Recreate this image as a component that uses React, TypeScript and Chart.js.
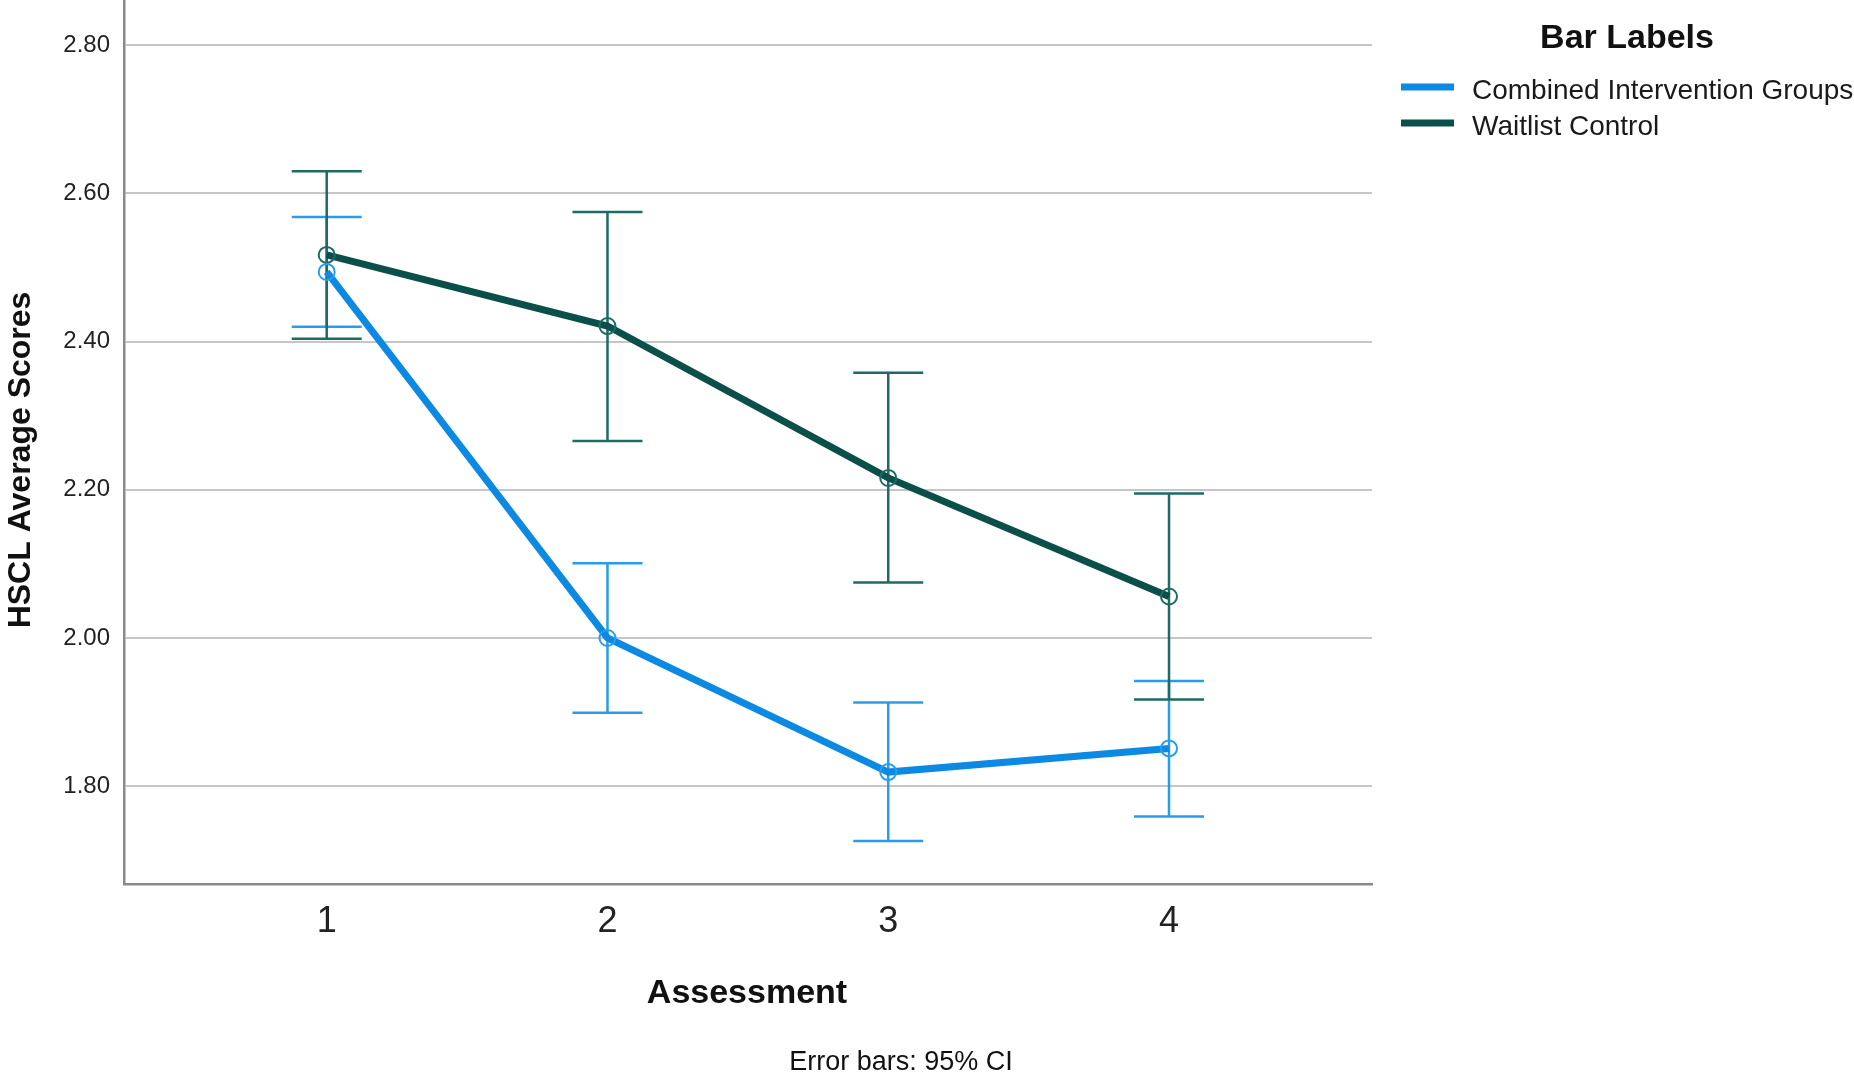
import { useEffect, useRef } from "react"
import { Chart, registerables } from "chart.js"

Chart.register(...registerables)

// Assessment points on the x axis
const assessments = [1, 2, 3, 4]

// Combined Intervention Groups: means and 95% CI bounds
const combinedMean = [2.494, 2.0, 1.819, 1.851]
const combinedLow = [2.42, 1.899, 1.726, 1.759]
const combinedHigh = [2.568, 2.101, 1.913, 1.942]

// Waitlist Control: means and 95% CI bounds
const waitlistMean = [2.517, 2.421, 2.216, 2.056]
const waitlistLow = [2.404, 2.266, 2.075, 1.917]
const waitlistHigh = [2.63, 2.575, 2.358, 2.195]

const seriesNames = ["Combined Intervention Groups", "Waitlist Control"]

const BLUE = "#0c8ae3"
const BLUE_BAR = "#2a9dea"
const TEAL = "#0b4f4a"
const TEAL_BAR = "#1e6b65"
const FONT = "'Liberation Sans', Arial, sans-serif"

const W = 1854
const H = 1073

const errorBars = [
  { low: combinedLow, high: combinedHigh, color: BLUE_BAR },
  { low: waitlistLow, high: waitlistHigh, color: TEAL_BAR },
]

// draws the CI whiskers behind the lines
const errorBarPlugin = {
  id: "errorBars",
  beforeDatasetsDraw(chart: any) {
    const { ctx } = chart
    const yScale = chart.scales.y
    ctx.save()
    errorBars.forEach((bar, di) => {
      const meta = chart.getDatasetMeta(di)
      ctx.strokeStyle = bar.color
      ctx.lineWidth = 2.5
      meta.data.forEach((pt: any, i: number) => {
        const x = pt.x
        const yLo = yScale.getPixelForValue(bar.low[i])
        const yHi = yScale.getPixelForValue(bar.high[i])
        ctx.beginPath()
        ctx.moveTo(x, yLo)
        ctx.lineTo(x, yHi)
        ctx.moveTo(x - 35, yLo)
        ctx.lineTo(x + 35, yLo)
        ctx.moveTo(x - 35, yHi)
        ctx.lineTo(x + 35, yHi)
        ctx.stroke()
      })
    })
    ctx.restore()
  },
}

// axis titles, legend block and footnote
const labelsPlugin = {
  id: "labels",
  afterDraw(chart: any) {
    const { ctx } = chart
    ctx.save()
    ctx.fillStyle = "#111"

    // y title
    ctx.save()
    ctx.translate(21, 460)
    ctx.rotate(-Math.PI / 2)
    ctx.font = `bold 32px ${FONT}`
    ctx.textAlign = "center"
    ctx.textBaseline = "middle"
    ctx.fillText("HSCL Average Scores", 0, 0)
    ctx.restore()

    // x title
    ctx.font = `bold 34px ${FONT}`
    ctx.textAlign = "center"
    ctx.textBaseline = "alphabetic"
    ctx.fillText("Assessment", 747, 1003)

    // footnote
    ctx.font = `27px ${FONT}`
    ctx.fillText("Error bars: 95% CI", 901, 1070)

    // legend
    ctx.font = `bold 34px ${FONT}`
    ctx.fillText("Bar Labels", 1627, 48)
    const colors = [BLUE, TEAL]
    const ys = [87, 123]
    ctx.textAlign = "left"
    ctx.font = `28px ${FONT}`
    seriesNames.forEach((name, i) => {
      ctx.strokeStyle = colors[i]
      ctx.lineWidth = 7
      ctx.beginPath()
      ctx.moveTo(1401, ys[i])
      ctx.lineTo(1454, ys[i])
      ctx.stroke()
      ctx.fillStyle = "#1a1a1a"
      ctx.fillText(name, 1472, ys[i] + 12)
    })
    ctx.restore()
  },
}

export default function App() {
  const canvasRef = useRef<HTMLCanvasElement>(null)

  useEffect(() => {
    document.body.style.margin = "0"
    document.body.style.overflow = "hidden"
    if (!canvasRef.current) return

    const chart = new Chart(canvasRef.current, {
      type: "line",
      data: {
        datasets: [
          {
            label: seriesNames[0],
            data: assessments.map((a, i) => ({ x: a, y: combinedMean[i] })),
            borderColor: BLUE,
            borderWidth: 7,
            pointRadius: 8,
            pointBorderWidth: 2,
            pointBorderColor: BLUE_BAR,
            pointBackgroundColor: "rgba(255,255,255,0)",
            tension: 0,
          },
          {
            label: seriesNames[1],
            data: assessments.map((a, i) => ({ x: a, y: waitlistMean[i] })),
            borderColor: TEAL,
            borderWidth: 7,
            pointRadius: 8,
            pointBorderWidth: 2,
            pointBorderColor: TEAL_BAR,
            pointBackgroundColor: "rgba(255,255,255,0)",
            tension: 0,
          },
        ],
      },
      options: {
        responsive: false,
        animation: false,
        devicePixelRatio: 1,
        events: [],
        layout: {
          autoPadding: false,
          padding: { left: 0, top: 0, right: W - 1372, bottom: 0 },
        },
        plugins: {
          legend: { display: false },
          tooltip: { enabled: false },
        },
        scales: {
          x: {
            type: "linear",
            min: 0.278,
            max: 4.723,
            afterBuildTicks: (scale: any) => {
              scale.ticks = assessments.map((v) => ({ value: v }))
            },
            afterFit: (scale: any) => {
              scale.height = H - 884
              scale.paddingLeft = 0
              scale.paddingRight = 0
            },
            grid: { display: false, drawTicks: false },
            border: { display: true, color: "#8a8a8a", width: 2.5 },
            ticks: {
              padding: 16,
              color: "#222",
              font: { family: FONT, size: 36 },
              callback: (v: any) => String(v),
            },
          },
          y: {
            type: "linear",
            min: 1.668,
            max: 2.861,
            afterFit: (scale: any) => {
              scale.width = 124
              scale.paddingTop = 0
              scale.paddingBottom = 0
            },
            grid: { color: "#c6c6c6", lineWidth: 2, drawTicks: false },
            border: { display: true, color: "#8a8a8a", width: 2.5 },
            ticks: {
              stepSize: 0.2,
              includeBounds: false,
              padding: 14,
              color: "#222",
              font: { family: FONT, size: 24 },
              callback: (v: any) => Number(v).toFixed(2),
            },
          },
        },
      },
      plugins: [errorBarPlugin, labelsPlugin],
    })

    return () => chart.destroy()
  }, [])

  return (
    <div style={{ width: W, height: H, background: "#fff" }}>
      <canvas ref={canvasRef} width={W} height={H} style={{ width: W, height: H }} />
    </div>
  )
}
